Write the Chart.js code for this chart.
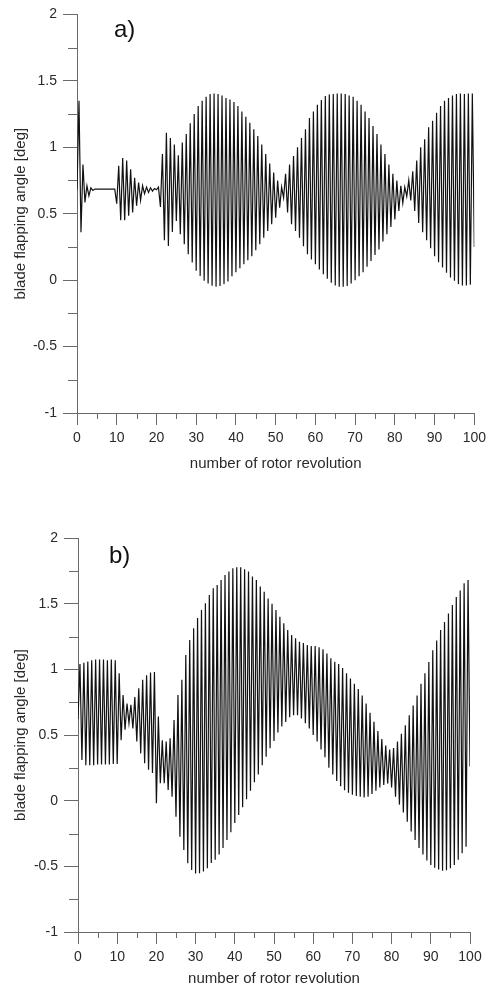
<!DOCTYPE html>
<html>
<head>
<meta charset="utf-8">
<title>blade flapping angle</title>
<script src="https://cdn.jsdelivr.net/npm/chart.js@4.4.1/dist/chart.umd.min.js"></script>
<style>
  html, body { margin: 0; padding: 0; background: #fff; }
  .panel { position: absolute; left: 0; width: 491px; height: 495px; }
  .tag { position: absolute; font-family: "Liberation Sans", Arial, sans-serif; font-size: 24px; line-height: 1; color: #111; }
</style>
</head>
<body>
<div class="panel" style="top:0"><canvas id="chartA" width="491" height="495"></canvas></div>
<div class="panel" style="top:495px"><canvas id="chartB" width="491" height="495"></canvas></div>
<div class="tag" style="left:114px; top:17px">a)</div>
<div class="tag" style="left:109px; top:543px">b)</div>
<script>
// ---- data ----
// troughs sit at whole revolutions (0..100), peaks half a revolution later (0.5..99.5)
const aTroughs = [
  0.68, 0.36, 0.585, 0.635, 0.675, 0.685, 0.685, 0.685, 0.685, 0.685,
  0.575, 0.45, 0.45, 0.485, 0.51, 0.56, 0.60, 0.65, 0.66, 0.67,
  0.68, 0.55, 0.30, 0.257, 0.362, 0.445, 0.345, 0.27, 0.195, 0.132,
  0.07, 0.032, -0.005, -0.025, -0.043, -0.05, -0.045, -0.03, -0.01, 0.03,
  0.06, 0.09, 0.12, 0.15, 0.18, 0.225, 0.27, 0.32, 0.37, 0.42,
  0.47, 0.545, 0.62, 0.51, 0.42, 0.37, 0.32, 0.255, 0.195, 0.155,
  0.12, 0.08, 0.045, 0.01, -0.02, -0.04, -0.05, -0.05, -0.045, -0.025,
  0.0, 0.03, 0.06, 0.10, 0.145, 0.19, 0.23, 0.29, 0.345, 0.40,
  0.457, 0.52, 0.58, 0.63, 0.60, 0.52, 0.43, 0.36, 0.30, 0.24,
  0.18, 0.135, 0.095, 0.055, 0.02, -0.005, -0.03, -0.04, -0.04, -0.035,
  0.25
];
const aPeaks = [
  1.35, 0.87, 0.71, 0.695, 0.685, 0.685, 0.685, 0.685, 0.685, 0.685,
  0.86, 0.92, 0.90, 0.835, 0.77, 0.735, 0.71, 0.70, 0.695, 0.69,
  0.70, 0.95, 1.11, 1.07, 1.02, 0.94, 1.035, 1.10, 1.18, 1.25,
  1.31, 1.35, 1.38, 1.40, 1.405, 1.40, 1.39, 1.37, 1.36, 1.34,
  1.31, 1.27, 1.23, 1.185, 1.135, 1.085, 1.02, 0.95, 0.877, 0.81,
  0.75, 0.70, 0.80, 0.87, 0.935, 1.0, 1.07, 1.135, 1.22, 1.27,
  1.32, 1.355, 1.385, 1.397, 1.40, 1.405, 1.405, 1.40, 1.39, 1.38,
  1.35, 1.32, 1.27, 1.22, 1.16, 1.10, 1.02, 0.95, 0.87, 0.80,
  0.75, 0.71, 0.70, 0.75, 0.82, 0.90, 1.0, 1.06, 1.15, 1.20,
  1.26, 1.31, 1.35, 1.37, 1.39, 1.40, 1.405, 1.40, 1.405, 1.405
];
const bTroughs = [
  0.62, 0.31, 0.27, 0.27, 0.27, 0.275, 0.275, 0.275, 0.275, 0.28,
  0.28, 0.46, 0.54, 0.59, 0.55, 0.45, 0.36, 0.285, 0.235, 0.21,
  -0.02, 0.132, 0.132, 0.081, 0.03, -0.122, -0.274, -0.375, -0.477, -0.528,
  -0.555, -0.553, -0.54, -0.515, -0.475, -0.45, -0.41, -0.36, -0.30, -0.24,
  -0.17, -0.11, -0.05, 0.01, 0.075, 0.14, 0.20, 0.27, 0.335, 0.40,
  0.455, 0.52, 0.565, 0.60, 0.635, 0.65, 0.65, 0.625, 0.59, 0.55,
  0.50, 0.45, 0.39, 0.33, 0.25, 0.20, 0.15, 0.11, 0.08, 0.06,
  0.045, 0.035, 0.03, 0.025, 0.03, 0.05, 0.075, 0.10, 0.12, 0.13,
  0.10, 0.03, -0.03, -0.09, -0.16, -0.235, -0.30, -0.36, -0.41, -0.455,
  -0.49, -0.51, -0.525, -0.533, -0.53, -0.515, -0.49, -0.45, -0.40, -0.35,
  0.26
];
const bPeaks = [
  1.04, 1.05, 1.06, 1.07, 1.075, 1.075, 1.075, 1.07, 1.075, 1.07,
  0.97, 0.805, 0.74, 0.73, 0.79, 0.855, 0.92, 0.955, 0.975, 0.98,
  0.64, 0.46, 0.45, 0.475, 0.614, 0.805, 0.92, 1.11, 1.224, 1.313,
  1.39, 1.452, 1.503, 1.566, 1.617, 1.643, 1.68, 1.718, 1.744, 1.77,
  1.777, 1.777, 1.762, 1.744, 1.706, 1.68, 1.63, 1.59, 1.54, 1.50,
  1.452, 1.40, 1.35, 1.30, 1.262, 1.236, 1.21, 1.20, 1.186, 1.178,
  1.178, 1.168, 1.153, 1.12, 1.084, 1.058, 1.04, 1.01, 0.97, 0.93,
  0.89, 0.85, 0.80, 0.74, 0.67, 0.60, 0.53, 0.47, 0.42, 0.39,
  0.40, 0.45, 0.51, 0.575, 0.65, 0.725, 0.80, 0.89, 0.97, 1.055,
  1.145, 1.22, 1.30, 1.36, 1.425, 1.49, 1.55, 1.60, 1.655, 1.68
];

const xRange = [0, 100];
const yRange = [-1, 2];
const xStep = 10;
const yStep = 0.5;
const xMinorTicks = [5, 15, 25, 35, 45, 55, 65, 75, 85, 95];
const yMinorTicks = [-0.75, -0.25, 0.25, 0.75, 1.25, 1.75];

const xTitle = "number of rotor revolution";
const yTitle = "blade flapping angle [deg]";

// ---- styling ----
const FONT = "'Liberation Sans', Arial, sans-serif";
const axisColor = "#6a6a6a";
const textColor = "#2a2a2a";
const lineColor = "#111111";

// troughs and peaks alternate along the revolution axis
function buildPoints(troughs, peaks) {
  const pts = [];
  troughs.forEach((v, k) => {
    pts.push({ x: k, y: v });
    if (k < peaks.length) pts.push({ x: k + 0.5, y: peaks[k] });
  });
  return pts;
}

// short minor tick marks (Chart.js has no minor ticks on linear axes)
const minorTicks = {
  id: "minorTicks",
  afterDraw(chart) {
    const { ctx, scales: { x, y } } = chart;
    ctx.save();
    ctx.strokeStyle = axisColor;
    ctx.lineWidth = 1;
    ctx.beginPath();
    xMinorTicks.forEach(v => {
      const px = Math.round(x.getPixelForValue(v)) + 0.5;
      ctx.moveTo(px, x.top);
      ctx.lineTo(px, x.top + 6);
    });
    yMinorTicks.forEach(v => {
      const py = Math.round(y.getPixelForValue(v)) + 0.5;
      ctx.moveTo(y.right, py);
      ctx.lineTo(y.right - 9, py);
    });
    ctx.stroke();
    ctx.restore();
  }
};

function makeChart(id, troughs, peaks, box) {
  return new Chart(document.getElementById(id), {
    type: "line",
    data: {
      datasets: [{
        data: buildPoints(troughs, peaks),
        borderColor: lineColor,
        borderWidth: 1.2,
        pointRadius: 0,
        tension: 0,
        fill: false
      }]
    },
    options: {
      responsive: false,
      animation: false,
      layout: { padding: { left: 0, right: box.right, top: box.top, bottom: 0 } },
      plugins: {
        legend: { display: false },
        tooltip: { enabled: false }
      },
      scales: {
        x: {
          type: "linear",
          min: xRange[0],
          max: xRange[1],
          afterFit: s => { s.height = box.xHeight; },
          border: { color: axisColor, width: 1 },
          grid: { drawOnChartArea: false, tickLength: 12, color: axisColor },
          ticks: {
            stepSize: xStep, autoSkip: false, maxRotation: 0, padding: 5,
            color: textColor, font: { family: FONT, size: 14 }
          },
          title: {
            display: true, text: xTitle, color: textColor,
            font: { family: FONT, size: 15 },
            padding: { top: 0, bottom: box.xTitlePad }
          }
        },
        y: {
          type: "linear",
          min: yRange[0],
          max: yRange[1],
          afterFit: s => { s.width = box.yWidth; },
          border: { color: axisColor, width: 1 },
          grid: { drawOnChartArea: false, tickLength: 14, color: axisColor },
          ticks: {
            stepSize: yStep, padding: 6,
            color: textColor, font: { family: FONT, size: 14 },
            callback: v => String(v)
          },
          title: {
            display: true, text: yTitle, color: textColor,
            font: { family: FONT, size: 15 },
            padding: { top: 12, bottom: 0 }
          }
        }
      }
    },
    plugins: [minorTicks]
  });
}

makeChart("chartA", aTroughs, aPeaks, { top: 13, right: 15, yWidth: 77, xHeight: 82, xTitlePad: 22 });
makeChart("chartB", bTroughs, bPeaks, { top: 43, right: 21, yWidth: 78, xHeight: 58, xTitlePad: 2 });
</script>
</body>
</html>
